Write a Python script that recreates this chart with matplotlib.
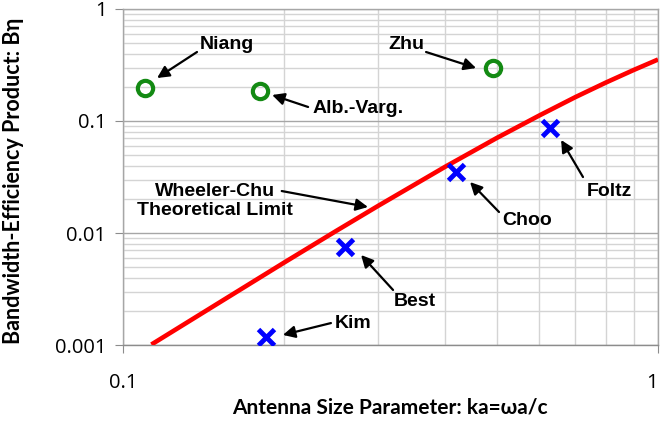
import matplotlib
matplotlib.use("Agg")
import matplotlib.pyplot as plt
from matplotlib.ticker import LogLocator, FixedLocator, FixedFormatter, NullFormatter

# Wheeler-Chu limit
chu_ka = [0.113, 0.15, 0.2, 0.25, 0.3, 0.4, 0.5, 0.6, 0.7, 0.8, 0.9, 1.0]
chu_bn = [0.00101, 0.00233, 0.00544, 0.0104, 0.0175, 0.0390, 0.0707, 0.112, 0.163, 0.221, 0.285, 0.354]

# circles (green)
circ_names = ["Niang", "Alb.-Varg.", "Zhu"]
circ_ka = [0.110, 0.180, 0.491]
circ_bn = [0.197, 0.187, 0.299]

# crosses (blue)
x_names = ["Kim", "Best", "Choo", "Foltz"]
x_ka = [0.185, 0.260, 0.419, 0.629]
x_bn = [0.00118, 0.0075, 0.0348, 0.087]

# label text position, arrow tail, arrow tip, alignment
labels = [
    ("Niang", (0.1564, 0.477), (0.1375, 0.413), (0.1158, 0.242), "center"),
    ("Alb.-Varg.", (0.2256, 0.1306), (0.2218, 0.1334), (0.190, 0.1707), "left"),
    ("Zhu", (0.338, 0.477), (0.3685, 0.413), (0.457, 0.297), "center"),
    ("Foltz", (0.810, 0.0237), (0.724, 0.0316), (0.659, 0.0677), "center"),
    ("Choo", (0.569, 0.01306), (0.5044, 0.0154), (0.4453, 0.0285), "center"),
    ("Best", (0.3513, 0.00247), (0.3197, 0.0031), (0.2786, 0.00636), "center"),
    ("Kim", (0.269, 0.00157), (0.2447, 0.00157), (0.199, 0.00123), "center"),
    ("Wheeler-Chu\nTheoretical Limit", (0.1486, 0.0193), (0.198, 0.0237), (0.287, 0.01706), "center"),
]

fig = plt.figure(figsize=(6.62, 4.24), dpi=100)
ax = fig.add_axes([0.1858, 0.1863, 0.994 - 0.1858, 0.9788 - 0.1863])
ax.set_xscale("log")
ax.set_yscale("log")
ax.set_xlim(0.1, 1)
ax.set_ylim(0.001, 1)

ax.xaxis.set_major_locator(FixedLocator([0.1, 1]))
ax.xaxis.set_major_formatter(FixedFormatter(["0.1", "1"]))
ax.yaxis.set_major_locator(FixedLocator([0.001, 0.01, 0.1, 1]))
ax.yaxis.set_major_formatter(FixedFormatter(["0.001", "0.01", "0.1", "1"]))
for a in (ax.xaxis, ax.yaxis):
    a.set_minor_locator(LogLocator(base=10, subs=range(2, 10)))
    a.set_minor_formatter(NullFormatter())

ax.grid(which="major", color="#a6a6a6", lw=1.0)
ax.grid(which="minor", color="#d4d4d4", lw=1.0)
ax.set_axisbelow(True)
for s in ax.spines.values():
    s.set_color("#a6a6a6")
    s.set_linewidth(1.0)
ax.spines["bottom"].set_color("#8c8c8c")
ax.tick_params(which="major", direction="out", length=6, color="#8c8c8c", pad=6)
ax.tick_params(which="minor", length=0)
for t in ax.get_xticklabels() + ax.get_yticklabels():
    t.set_fontfamily("Open Sans")
    t.set_fontsize(14.5)
ax.tick_params(axis="x", pad=14)
ax.get_xticklabels()[-1].set_horizontalalignment("right")

ax.plot(chu_ka, chu_bn, color="#ff0000", lw=3.3, solid_capstyle="butt", zorder=3, clip_on=True)
ax.plot(circ_ka, circ_bn, ls="none", marker="o", ms=11, mfc="none", mec="#138a13", mew=3, zorder=4)
ax.plot(x_ka, x_bn, ls="none", marker="x", ms=11, mec="#0000ff", mew=3.5, zorder=4)

for txt, pos, tail, tip, ha in labels:
    ax.text(pos[0], pos[1], txt, ha=ha, va="center", fontsize=14, fontweight="bold",
            family="Liberation Sans", multialignment="center", zorder=5)
    ax.annotate("", xy=tip, xytext=tail,
                arrowprops=dict(arrowstyle="-|>", color="black", lw=1.6,
                                mutation_scale=18, shrinkA=0, shrinkB=0), zorder=5)

ax.set_xlabel("Antenna Size Parameter: ka=ωa/c", fontsize=15, fontweight="bold", family="Lato")
ax.set_ylabel("Bandwidth-Efficiency Product: Bη", fontsize=15.5, fontweight="bold", family="Lato")
ax.xaxis.set_label_coords(0.499, -0.155)
ax.yaxis.set_label_coords(-0.185, 0.49)

fig.savefig("out.png", dpi=100)
